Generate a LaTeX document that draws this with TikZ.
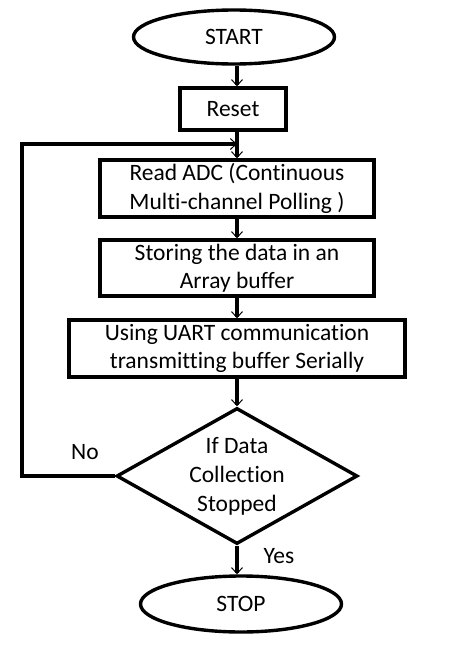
\documentclass[tikz,border=0pt]{standalone}
\usepackage{fontspec}
\setmainfont[Ligatures=NoCommon]{Carlito}
\usetikzlibrary{shapes.geometric,arrows.meta}
\begin{document}
\begin{tikzpicture}[x=1pt,y=-1pt,
  every node/.style={font=\fontsize{23.5}{28.5}\selectfont, inner sep=0pt, align=center},
  term/.style={draw, ellipse, line width=3.4pt, minimum width=201pt, minimum height=54pt},
  proc/.style={draw, rectangle, line width=3.4pt},
  decis/.style={draw, diamond, line width=3.4pt, minimum width=241pt, minimum height=136pt},
  conn/.style={line width=3.2pt, -{Straight Barb[length=6pt,width=11pt,line width=1pt]}},
  lbl/.style={font=\fontsize{23.5}{28}\selectfont}]
\fill[white] (0,0) rectangle (461,656);
\useasboundingbox (0,0) rectangle (461,656);
\node[term] (start) at (234,37) {START};
\node[proc, minimum width=106pt, minimum height=42pt] (reset) at (233,109) {Reset};
\node[proc, minimum width=274pt, minimum height=57pt] (read) at (237,188.5) {Read ADC (Continuous\\Multi-channel Polling )};
\node[proc, minimum width=274pt, minimum height=56pt] (store) at (237,268) {Storing the data in an\\Array buffer};
\node[proc, minimum width=336pt, minimum height=57pt] (uart) at (237,348.5) {Using UART communication\\transmitting buffer Serially};
\node[decis, label={[align=center, font=\fontsize{23.5}{29}\selectfont]center:If Data\\Collection\\Stopped}] (dec) at (237,476) {};
\node[term, minimum height=56pt] (stop) at (241,604) {STOP};
\coordinate (j) at (237,144);
\coordinate (c1) at (22,476);
\coordinate (c2) at (22,144);
\draw[conn] (start.south -| 237,0) -- (reset.north -| 237,0);
\draw[line width=3.2pt] (reset.south -| 237,0) -- (j);
\draw[conn] (j) -- (read.north);
\draw[conn] (read) -- (store);
\draw[conn] (store) -- (uart);
\draw[conn] (uart) -- (dec);
\draw[conn] (dec.south) -- (stop.north -| dec.south);
\draw[conn] (dec.west) -- (c1) -- (c2) -- (j);
\node[lbl] (no) at (85,452) {No};
\node[lbl] (yes) at (279,556) {Yes};
\end{tikzpicture}
\end{document}
